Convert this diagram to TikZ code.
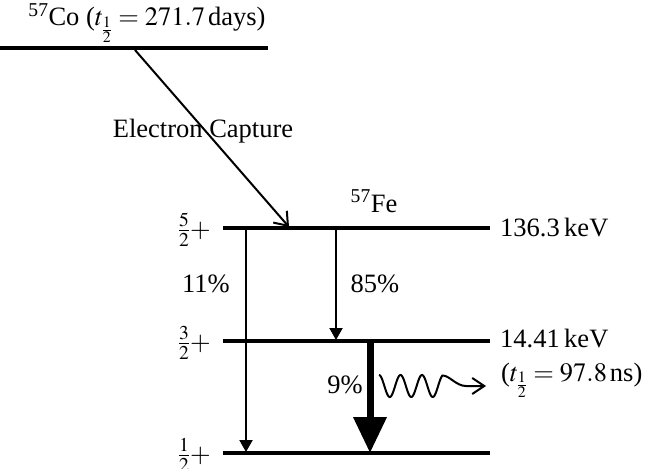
\documentclass[tikz,border=0pt]{standalone}
\usepackage{mathptmx}
\usepackage[no-math]{fontspec}
\setmainfont{Liberation Serif}
\usetikzlibrary{arrows.meta}
\begin{document}
\begin{tikzpicture}[x=1pt,y=-1pt,
  lvl/.style={line width=4pt},
  decay/.style={line width=2pt,-{Triangle[length=12pt,width=13pt]}},
  bigdecay/.style={line width=7pt,-{Triangle[length=36pt,width=32pt]}},
  lbl/.style={font=\fontsize{26.5}{31}\selectfont, inner sep=0pt}]
\useasboundingbox (0,0) rectangle (652,468);
% levels
\coordinate (coL) at (0,48);   \coordinate (coR) at (268,48);
\coordinate (aL) at (223,228); \coordinate (aR) at (490,228);
\coordinate (bL) at (223,341); \coordinate (bR) at (490,341);
\coordinate (cL) at (223,453); \coordinate (cR) at (490,453);
\draw[lvl] (coL) -- (coR);
\draw[lvl] (aL) -- (aR);
\draw[lvl] (bL) -- (bR);
\draw[lvl] (cL) -- (cR);
% electron capture
\coordinate (ecS) at (135,50);
\coordinate (ecE) at (289,227);
\draw[line width=2pt,-{Straight Barb[length=12pt,width=18pt]}] (ecS) -- (ecE);
% decays
\coordinate (d1s) at (246,230); \coordinate (d1e) at (246,452);
\coordinate (d2s) at (336,230); \coordinate (d2e) at (336,340);
\coordinate (d3s) at (370,343); \coordinate (d3e) at (370,453);
\draw[decay] (d1s) -- (d1e);
\draw[decay] (d2s) -- (d2e);
\draw[bigdecay] (d3s) -- (d3e);
% gamma wave
\coordinate (wE) at (486,386);
\draw[line width=2pt,-{Straight Barb[length=12pt,width=16pt]}]
  plot[domain=0:2.95,samples=90,smooth] ({379+21.5*\x},{386-11*cos(360*\x)})
  .. controls (449,375) and (456,386) .. (466,386) -- (wE);
% labels
\node[lbl,anchor=base] (co) at (147,26) {\textsuperscript{57}Co ($t_{\frac{1}{2}}=271.7\,$days)};
\node[lbl,anchor=base] (ec) at (203,137) {Electron Capture};
\node[lbl,anchor=base] (fe) at (374,212) {\textsuperscript{57}Fe};
\node[lbl,anchor=base east] (sa) at (211,237) {$\frac{5}{2}+$};
\node[lbl,anchor=base east] (sb) at (211,350) {$\frac{3}{2}+$};
\node[lbl,anchor=base east] (sc) at (211,462) {$\frac{1}{2}+$};
\node[lbl,anchor=base west] (ea) at (500,236) {136.3\,keV};
\node[lbl,anchor=base west] (eb) at (500,347) {14.41\,keV};
\node[lbl,anchor=base west] (tb) at (501,381) {($t_{\frac{1}{2}}=97.8\,$ns)};
\node[lbl,anchor=base] (p11) at (206,292) {11\%};
\node[lbl,anchor=base] (p85) at (375,292) {85\%};
\node[lbl,anchor=base east] (p9) at (363,393) {9\%};
\end{tikzpicture}
\end{document}
